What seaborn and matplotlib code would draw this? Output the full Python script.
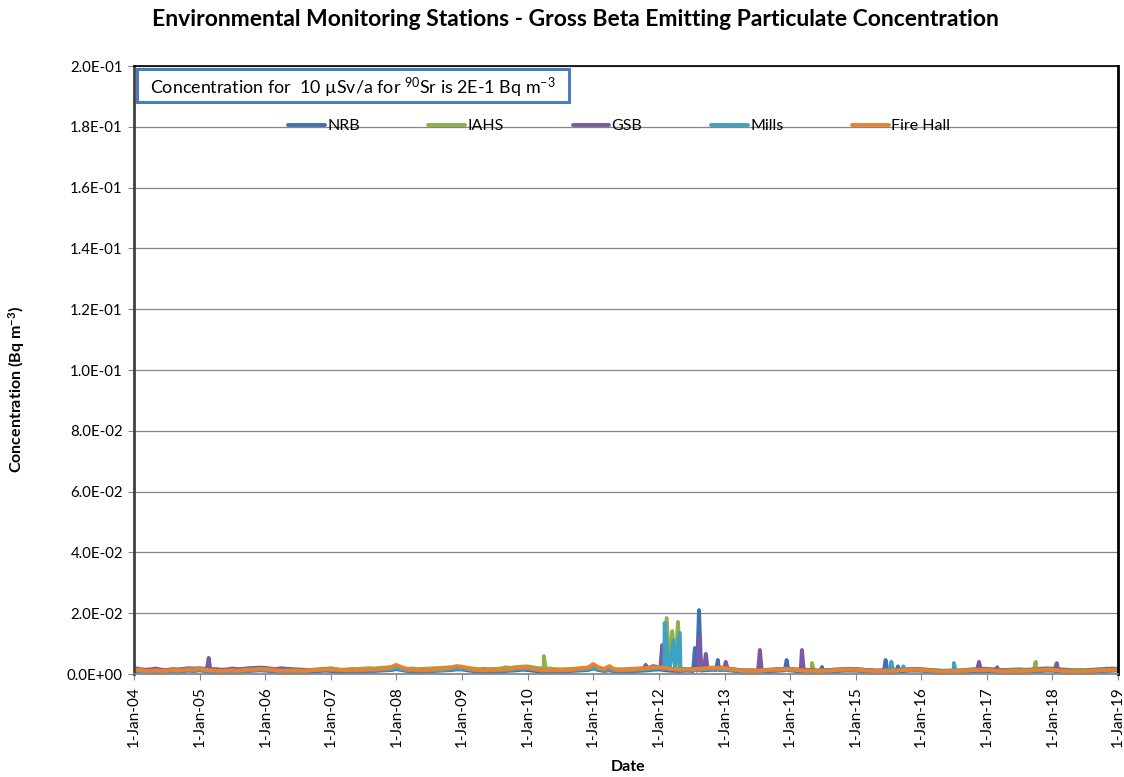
import numpy as np
import pandas as pd
import matplotlib
matplotlib.use("Agg")
import matplotlib.pyplot as plt
import matplotlib.dates as mdates
from matplotlib.ticker import FuncFormatter, MultipleLocator
from matplotlib.patches import Rectangle
from matplotlib.lines import Line2D
import seaborn as sns

# ---------------- data (values in mBq m-3) ----------------
stations = ["NRB", "IAHS", "GSB", "Mills", "Fire Hall"]
colors = ["#3F6FB6", "#8DB04B", "#7A5AA3", "#3EA3C2", "#E8822F"]

month_dates = pd.date_range("2004-01-01", "2019-01-01", freq="MS")  # sampling schedule

nrb_base = [
    1.0, 0.9, 0.8, 0.7, 0.8, 0.7, 0.8, 0.9, 0.8, 1.0, 1.1, 1.0,
    1.2, 1.0, 0.8, 0.7, 0.7, 0.8, 0.7, 0.8, 0.9, 1.0, 1.1, 1.2,
    1.1, 1.0, 0.8, 0.7, 0.8, 0.7, 0.8, 0.7, 0.8, 0.9, 1.0, 1.1,
    1.0, 0.9, 0.8, 0.8, 0.9, 0.8, 0.9, 1.0, 1.0, 1.1, 1.2, 1.3,
    1.6, 1.3, 1.0, 0.9, 0.8, 0.8, 0.9, 1.0, 1.1, 1.2, 1.3, 1.5,
    1.5, 1.2, 1.0, 0.9, 0.8, 0.9, 0.8, 0.9, 1.0, 1.1, 1.2, 1.4,
    1.3, 1.1, 0.9, 0.8, 0.8, 0.8, 0.9, 0.8, 1.0, 1.1, 1.2, 1.3,
    1.8, 1.3, 1.0, 1.2, 0.9, 0.8, 0.9, 1.0, 1.0, 1.1, 1.2, 1.4,
    1.5, 1.3, 1.1, 1.0, 1.0, 1.1, 1.0, 1.1, 1.2, 1.3, 1.4, 1.4,
    1.4, 1.2, 1.0, 0.9, 0.8, 0.8, 0.8, 0.9, 0.9, 1.0, 1.1, 1.2,
    1.2, 1.0, 0.9, 0.8, 0.8, 0.7, 0.8, 0.8, 0.9, 1.0, 1.1, 1.1,
    1.1, 1.0, 0.9, 0.8, 0.7, 0.8, 0.7, 0.8, 0.9, 1.0, 1.1, 1.1,
    1.1, 0.9, 0.8, 0.7, 0.7, 0.7, 0.8, 0.8, 0.8, 0.9, 1.0, 1.0,
    1.0, 0.9, 0.8, 0.7, 0.7, 0.8, 0.7, 0.8, 0.9, 1.0, 1.0, 1.1,
    1.1, 0.9, 0.8, 0.7, 0.7, 0.7, 0.7, 0.8, 0.9, 0.9, 1.0, 1.1,
    1.2]
iahs_base = [
    1.3, 1.2, 1.0, 1.1, 0.9, 1.0, 1.1, 1.2, 1.1, 1.3, 1.4, 1.4,
    1.6, 1.3, 1.1, 1.0, 1.1, 1.0, 1.1, 1.2, 1.2, 1.3, 1.4, 1.6,
    1.5, 1.4, 1.1, 1.0, 1.1, 1.0, 1.0, 1.1, 1.2, 1.3, 1.5, 1.7,
    1.9, 1.6, 1.4, 1.5, 1.7, 1.6, 1.8, 1.9, 1.8, 2.0, 2.1, 2.3,
    2.6, 2.1, 1.7, 1.8, 1.6, 1.7, 1.8, 1.9, 2.0, 2.1, 2.2, 2.4,
    2.3, 2.0, 1.8, 1.6, 1.7, 1.6, 1.7, 1.8, 2.2, 2.0, 2.3, 2.4,
    2.5, 2.2, 1.9, 2.0, 1.8, 1.6, 1.5, 1.6, 1.7, 1.8, 2.0, 2.1,
    2.6, 2.0, 1.7, 1.9, 1.6, 1.5, 1.6, 1.7, 1.8, 1.9, 2.0, 2.2,
    2.2, 1.9, 1.7, 1.6, 1.5, 1.6, 1.5, 1.6, 1.7, 1.8, 1.9, 1.8,
    1.7, 1.5, 1.3, 1.2, 1.1, 1.2, 1.1, 1.2, 1.3, 1.4, 1.5, 1.6,
    1.5, 1.4, 1.3, 1.4, 1.2, 1.1, 1.2, 1.3, 1.4, 1.5, 1.6, 1.5,
    1.5, 1.4, 1.3, 1.2, 1.1, 1.2, 1.3, 1.4, 1.3, 1.5, 1.6, 1.7,
    1.6, 1.4, 1.3, 1.2, 1.1, 1.0, 1.1, 1.2, 1.3, 1.5, 1.6, 1.7,
    1.7, 1.5, 1.4, 1.3, 1.4, 1.5, 1.6, 1.4, 1.5, 1.7, 1.8, 1.9,
    1.8, 1.6, 1.5, 1.4, 1.3, 1.4, 1.3, 1.4, 1.5, 1.6, 1.7, 1.8,
    1.7]
gsb_base = [
    2.0, 1.6, 1.4, 1.5, 1.8, 1.4, 1.3, 1.6, 1.5, 1.7, 1.9, 1.8,
    1.9, 1.7, 1.5, 1.6, 1.4, 1.5, 1.8, 1.6, 1.7, 1.9, 2.0, 2.1,
    2.0, 1.8, 1.6, 1.9, 1.7, 1.6, 1.5, 1.4, 1.3, 1.4, 1.5, 1.6,
    1.4, 1.3, 1.2, 1.1, 1.2, 1.1, 1.2, 1.3, 1.3, 1.4, 1.5, 1.6,
    1.8, 1.6, 1.4, 1.3, 1.2, 1.3, 1.2, 1.4, 1.5, 1.6, 1.7, 1.8,
    1.9, 1.7, 1.5, 1.3, 1.2, 1.3, 1.2, 1.3, 1.4, 1.5, 1.7, 1.8,
    1.8, 1.6, 1.4, 1.2, 1.3, 1.2, 1.3, 1.2, 1.4, 1.5, 1.7, 1.8,
    2.0, 1.7, 1.5, 1.4, 1.3, 1.4, 1.3, 1.4, 1.5, 1.7, 1.9, 2.6,
    2.2, 1.9, 1.7, 1.6, 1.5, 1.6, 1.5, 1.6, 1.7, 1.9, 2.0, 2.1,
    1.9, 1.7, 1.5, 1.3, 1.2, 1.1, 1.2, 1.3, 1.4, 1.5, 1.6, 1.7,
    1.7, 1.5, 1.3, 1.2, 1.3, 1.1, 1.2, 1.3, 1.4, 1.5, 1.6, 1.7,
    1.6, 1.5, 1.3, 1.2, 1.1, 1.2, 1.1, 1.3, 1.4, 1.5, 1.6, 1.6,
    1.5, 1.4, 1.2, 1.1, 1.0, 1.1, 1.2, 1.1, 1.2, 1.4, 1.5, 1.6,
    1.6, 1.5, 1.3, 1.2, 1.1, 1.2, 1.1, 1.2, 1.3, 1.5, 1.6, 1.7,
    1.6, 1.5, 1.3, 1.2, 1.1, 1.0, 1.1, 1.2, 1.4, 1.5, 1.6, 1.7,
    1.5]
mills_base = [
    1.2, 1.1, 1.0, 0.9, 1.0, 0.9, 1.0, 1.1, 1.0, 1.2, 1.3, 1.3,
    1.4, 1.2, 1.0, 0.9, 1.0, 0.9, 1.0, 1.1, 1.1, 1.2, 1.3, 1.4,
    1.4, 1.3, 1.1, 1.0, 1.2, 1.1, 1.0, 1.1, 1.2, 1.4, 1.3, 1.5,
    1.4, 1.3, 1.2, 1.1, 1.2, 1.1, 1.2, 1.3, 1.3, 1.4, 1.5, 1.6,
    1.9, 1.6, 1.3, 1.2, 1.1, 1.2, 1.1, 1.2, 1.3, 1.4, 1.6, 1.7,
    1.8, 1.6, 1.3, 1.2, 1.1, 1.2, 1.1, 1.2, 1.3, 1.4, 1.6, 1.7,
    1.7, 1.5, 1.3, 1.1, 1.2, 1.1, 1.2, 1.1, 1.3, 1.4, 1.5, 1.6,
    2.0, 1.6, 1.3, 1.5, 1.2, 1.1, 1.2, 1.3, 1.4, 1.5, 1.6, 1.8,
    1.9, 1.7, 1.5, 1.4, 1.3, 1.4, 1.3, 1.4, 1.5, 1.6, 1.7, 1.7,
    1.6, 1.4, 1.2, 1.1, 1.0, 1.1, 1.0, 1.1, 1.2, 1.3, 1.4, 1.5,
    1.5, 1.3, 1.2, 1.1, 1.0, 1.0, 1.1, 1.1, 1.2, 1.3, 1.4, 1.4,
    1.4, 1.3, 1.2, 1.1, 1.0, 1.1, 1.0, 1.1, 1.2, 1.3, 1.4, 1.4,
    1.3, 1.2, 1.1, 1.0, 0.9, 1.0, 1.1, 1.0, 1.1, 1.2, 1.3, 1.3,
    1.3, 1.2, 1.1, 1.0, 1.0, 1.1, 1.0, 1.1, 1.2, 1.3, 1.3, 1.4,
    1.4, 1.2, 1.1, 1.0, 1.0, 0.9, 1.0, 1.1, 1.2, 1.2, 1.3, 1.3,
    1.4]
firehall_base = [
    1.5, 1.3, 1.1, 1.0, 1.2, 1.0, 1.1, 1.3, 1.2, 1.4, 1.6, 1.5,
    1.8, 1.4, 1.2, 1.1, 1.0, 1.1, 1.2, 1.0, 1.3, 1.4, 1.5, 1.7,
    1.6, 1.5, 1.2, 1.1, 1.0, 1.2, 1.1, 1.0, 1.2, 1.3, 1.4, 1.6,
    1.5, 1.4, 1.3, 1.2, 1.5, 1.3, 1.4, 1.6, 1.5, 1.7, 1.9, 2.2,
    3.0, 2.2, 1.6, 1.4, 1.3, 1.2, 1.4, 1.5, 1.7, 1.9, 2.1, 2.6,
    2.4, 1.9, 1.6, 1.3, 1.2, 1.4, 1.3, 1.5, 1.6, 1.8, 2.0, 2.2,
    2.1, 1.8, 1.5, 1.2, 1.3, 1.2, 1.4, 1.3, 1.5, 1.7, 1.9, 2.0,
    3.3, 2.1, 1.6, 2.6, 1.5, 1.3, 1.4, 1.5, 1.6, 1.8, 2.0, 2.2,
    2.3, 2.0, 1.7, 1.5, 1.4, 1.6, 1.5, 1.7, 1.8, 2.0, 2.1, 2.0,
    2.0, 1.7, 1.4, 1.2, 1.1, 1.0, 1.1, 1.2, 1.3, 1.4, 1.5, 1.6,
    1.6, 1.4, 1.2, 1.0, 1.1, 0.9, 1.0, 1.1, 1.2, 1.4, 1.5, 1.5,
    1.4, 1.3, 1.1, 1.0, 0.9, 1.0, 0.9, 1.1, 1.2, 1.3, 1.4, 1.5,
    1.4, 1.2, 1.1, 0.9, 0.8, 0.9, 1.0, 1.0, 1.1, 1.2, 1.4, 1.3,
    1.3, 1.2, 1.0, 0.9, 0.9, 1.0, 0.9, 1.0, 1.1, 1.3, 1.4, 1.5,
    1.4, 1.2, 1.0, 0.9, 0.9, 0.8, 0.9, 1.0, 1.1, 1.2, 1.3, 1.4,
    1.5]

# short-lived excursions (weekly samples around each peak)
nrb_spike_dates = ["2012-07-10", "2012-07-20", "2012-07-29", "2012-08-12", "2012-08-24",
                   "2012-11-15", "2012-11-25", "2012-12-05",
                   "2013-12-03", "2013-12-13", "2013-12-23",
                   "2014-06-18", "2014-06-28", "2014-07-08",
                   "2015-06-07", "2015-06-17", "2015-06-27",
                   "2015-08-15", "2015-08-25", "2015-09-04",
                   "2018-10-16", "2018-10-26", "2018-11-05"]
nrb_spike_vals = [1.0, 8.5, 2.5, 21.0, 1.1,
                  1.3, 4.6, 1.3,
                  1.2, 4.6, 1.2,
                  0.8, 2.3, 0.8,
                  0.8, 4.6, 0.8,
                  0.8, 2.5, 0.9,
                  0.9, 1.8, 1.0]
iahs_spike_dates = ["2010-03-22", "2010-04-01", "2010-04-11",
                    "2012-02-04", "2012-02-14", "2012-02-28", "2012-03-16",
                    "2012-03-30", "2012-04-17", "2012-04-28",
                    "2014-04-23", "2014-05-03", "2014-05-13",
                    "2017-09-20", "2017-09-30", "2017-10-10"]
iahs_spike_vals = [1.9, 5.9, 1.8,
                   1.9, 18.4, 3.0, 14.1,
                   3.0, 17.1, 1.6,
                   1.3, 3.6, 1.2,
                   1.5, 4.0, 1.7]
gsb_spike_dates = ["2005-02-10", "2005-02-20", "2005-03-02",
                   "2011-10-10", "2011-10-20", "2011-10-30",
                   "2012-01-10", "2012-01-20", "2012-01-30",
                   "2012-08-03", "2012-08-13", "2012-08-23",
                   "2012-09-09", "2012-09-19", "2012-09-29",
                   "2012-12-28", "2013-01-08", "2013-01-18",
                   "2013-07-07", "2013-07-17", "2013-07-27",
                   "2014-02-26", "2014-03-08", "2014-03-18",
                   "2016-11-08", "2016-11-18", "2016-11-28",
                   "2017-02-18", "2017-02-28", "2017-03-10",
                   "2018-01-15", "2018-01-25", "2018-02-04"]
gsb_spike_vals = [1.7, 5.3, 1.6,
                  1.7, 3.0, 1.8,
                  2.1, 9.5, 2.0,
                  1.6, 12.5, 1.7,
                  1.7, 6.6, 1.8,
                  2.1, 4.0, 1.9,
                  1.2, 7.9, 1.2,
                  1.5, 7.9, 1.3,
                  1.5, 4.0, 1.5,
                  1.5, 2.2, 1.3,
                  1.6, 3.6, 1.5]
mills_spike_dates = ["2012-01-24", "2012-02-03", "2012-02-20", "2012-03-22",
                     "2012-04-06", "2012-04-27", "2012-05-10",
                     "2015-07-09", "2015-07-19", "2015-07-29",
                     "2015-09-14", "2015-09-24", "2015-10-04",
                     "2016-06-21", "2016-07-01", "2016-07-11"]
mills_spike_vals = [1.8, 16.8, 4.0, 11.0,
                    4.0, 13.5, 1.5,
                    1.0, 4.0, 1.1,
                    1.2, 2.5, 1.3,
                    1.0, 3.6, 1.1]
firehall_spike_dates = []
firehall_spike_vals = []

series = {
    "NRB": (nrb_base, nrb_spike_dates, nrb_spike_vals),
    "IAHS": (iahs_base, iahs_spike_dates, iahs_spike_vals),
    "GSB": (gsb_base, gsb_spike_dates, gsb_spike_vals),
    "Mills": (mills_base, mills_spike_dates, mills_spike_vals),
    "Fire Hall": (firehall_base, firehall_spike_dates, firehall_spike_vals),
}

frames = []
for name, (base, sd, sv) in series.items():
    d = list(month_dates) + list(pd.to_datetime(sd))
    v = list(base) + list(sv)
    frames.append(pd.DataFrame({"Date": d, "Concentration": np.array(v) / 1000.0, "Station": name}))
df = pd.concat(frames, ignore_index=True)

# ---------------- styling ----------------
sns.set_style("white")
plt.rcParams["font.family"] = ["Lato", "DejaVu Sans"]
plt.rcParams["mathtext.default"] = "regular"
plt.rcParams["text.color"] = "black"

W, H = 1124, 777
fig = plt.figure(figsize=(W / 100, H / 100), dpi=100)
ax = fig.add_axes([134 / W, 1 - 674 / H, (1118 - 134) / W, (674 - 66) / H])

sns.lineplot(data=df, x="Date", y="Concentration", hue="Station", hue_order=stations,
             palette=colors, linewidth=2.8, estimator=None, sort=True, legend=False, ax=ax,
             solid_joinstyle="round", solid_capstyle="round")

ax.set_xlim(pd.Timestamp("2004-01-01"), pd.Timestamp("2019-01-01"))
ax.set_ylim(0, 0.2)
ax.yaxis.set_major_locator(MultipleLocator(0.02))
ax.yaxis.set_major_formatter(FuncFormatter(lambda v, p: f"{v:.1E}"))
ax.xaxis.set_major_locator(mdates.YearLocator())

def date_fmt(x, pos):
    d = mdates.num2date(x)
    return f"{d.day}-{d:%b}-{d:%y}"

ax.xaxis.set_major_formatter(FuncFormatter(date_fmt))
ax.grid(axis="y", color="#868686", linewidth=0.9)
ax.set_axisbelow(True)
ax.set_xlabel("")
ax.set_ylabel("")

ax.tick_params(axis="y", direction="out", length=4, width=0.8, color="#868686",
               labelsize=10.8, pad=4, left=True, labelcolor="black")
ax.tick_params(axis="x", direction="out", length=4, width=0.8, color="#868686",
               labelsize=11, pad=5, bottom=True, labelrotation=90, labelcolor="black")

ax.spines["left"].set_color("#404040")
ax.spines["left"].set_linewidth(2.0)
ax.spines["right"].set_color("black")
ax.spines["right"].set_linewidth(2.0)
ax.spines["top"].set_color("black")
ax.spines["top"].set_linewidth(1.2)
ax.spines["bottom"].set_color("#808080")
ax.spines["bottom"].set_linewidth(1.2)

# title and axis labels
fig.text(575 / W, 1 - 19 / H, "Environmental Monitoring Stations - Gross Beta Emitting Particulate Concentration",
         ha="center", va="center", fontsize=16.5, fontweight="bold", color="black")
fig.text(17 / W, 1 - 390 / H, "Concentration (Bq m$^{-3}$)", rotation=90,
         ha="center", va="center", fontsize=11.5, fontweight="bold", color="black")
fig.text(628 / W, 1 - 767 / H, "Date", ha="center", va="center", fontsize=11.5,
         fontweight="bold", color="black")

# annotation box
fig.patches.append(Rectangle((137 / W, 1 - 102 / H), (569 - 137) / W, (102 - 69) / H,
                             transform=fig.transFigure, facecolor="white",
                             edgecolor="#4A7EBB", linewidth=2.2, zorder=5))
fig.text(150 / W, 1 - 88 / H, "Concentration for  10 µSv/a for $^{90}$Sr is 2E-1 Bq m$^{-3}$",
         ha="left", va="center", fontsize=12.9, zorder=6, color="black")

# legend
handles = [Line2D([0], [0], color=c, linewidth=2.8) for c in colors]
leg = fig.legend(handles, stations, loc="center left", bbox_to_anchor=(288 / W, 1 - 126 / H),
                 ncol=5, frameon=False, fontsize=11.5, handlelength=2.3, handletextpad=0.15,
                 columnspacing=4.3, borderpad=0, borderaxespad=0)
for t in leg.get_texts():
    t.set_color("black")

fig.savefig("out.png", dpi=100)
